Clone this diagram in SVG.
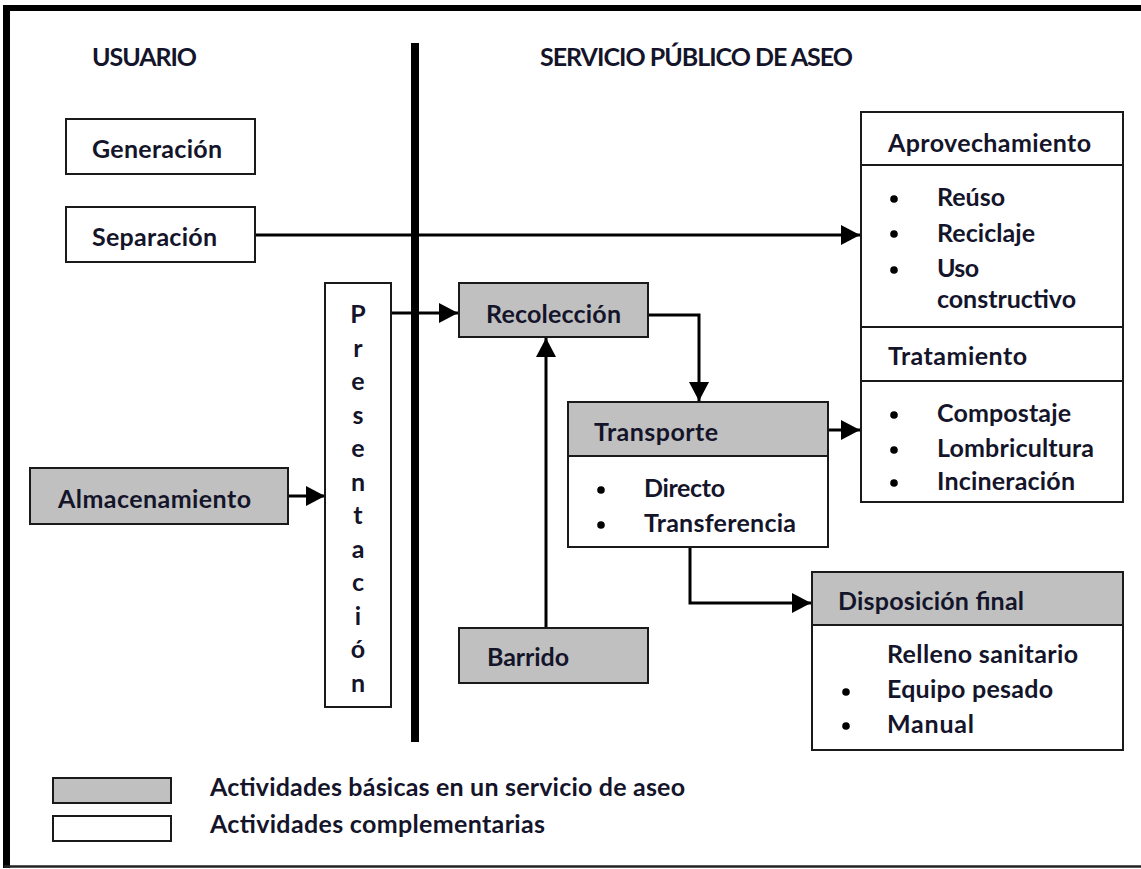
<svg xmlns="http://www.w3.org/2000/svg" width="1141" height="869" viewBox="0 0 1141 869">
<defs>
<style>
.t{font-family:Lato,"Open Sans","Liberation Sans",sans-serif;font-size:25px;font-weight:bold;fill:#14142a}
.box{fill:#fff;stroke:#1a1a1a;stroke-width:2}
.g{fill:#c0c0c0;stroke:#1a1a1a;stroke-width:2}
.c{fill:none;stroke:#000;stroke-width:3}
.b{fill:#000}
</style>
<marker id="ah" markerUnits="userSpaceOnUse" markerWidth="20" markerHeight="20" refX="19" refY="10" orient="auto">
<path d="M0,0 L19,10 L0,20 z" fill="#000"/>
</marker>
</defs>
<rect width="1141" height="869" fill="#fff"/>
<g id="frame">
<line x1="4" y1="8" x2="1141" y2="8" stroke="#000" stroke-width="6"/>
<line x1="6.5" y1="5" x2="6.5" y2="868" stroke="#000" stroke-width="7"/>
<line x1="4" y1="866.5" x2="1141" y2="866.5" stroke="#222" stroke-width="2.5"/>
<line x1="415" y1="43" x2="415" y2="742" stroke="#000" stroke-width="8"/>
</g>
<g id="titles">
<text class="t" x="92" y="66" textLength="105">USUARIO</text>
<text class="t" x="540" y="66" textLength="313">SERVICIO PÚBLICO DE ASEO</text>
</g>
<g id="connectors">
<line class="c" x1="255" y1="235" x2="860" y2="235" stroke-width="4" marker-end="url(#ah)"/>
<line class="c" x1="288" y1="496" x2="325" y2="496" stroke-width="4" marker-end="url(#ah)"/>
<line class="c" x1="392" y1="313" x2="458" y2="313" stroke-width="2.5" marker-end="url(#ah)"/>
<polyline class="c" points="648,315 699,315 699,401" marker-end="url(#ah)"/>
<line class="c" x1="828" y1="430" x2="860" y2="430" stroke-width="4" marker-end="url(#ah)"/>
<polyline class="c" points="690,547 690,603 811,603" marker-end="url(#ah)"/>
<line class="c" x1="546" y1="628" x2="546" y2="338" marker-end="url(#ah)"/>
</g>
<g id="generacion">
<rect class="box" x="66" y="119" width="189" height="55"/>
<text class="t" x="92" y="158" textLength="130">Generación</text>
</g>
<g id="separacion">
<rect class="box" x="66" y="207" width="189" height="55"/>
<text class="t" x="92" y="246" textLength="125">Separación</text>
</g>
<g id="almacenamiento">
<rect class="g" x="30" y="468" width="258" height="56"/>
<text class="t" x="58" y="508" textLength="193">Almacenamiento</text>
</g>
<g id="presentacion">
<rect class="box" x="325" y="283" width="66" height="424"/>
<g class="t" text-anchor="middle">
<text x="358" y="323">P</text>
<text x="358" y="356.5">r</text>
<text x="358" y="390">e</text>
<text x="358" y="423.5">s</text>
<text x="358" y="457">e</text>
<text x="358" y="490.5">n</text>
<text x="358" y="524">t</text>
<text x="358" y="557.5">a</text>
<text x="358" y="591">c</text>
<text x="358" y="624.5">i</text>
<text x="358" y="658">ó</text>
<text x="358" y="691.5">n</text>
</g>
</g>
<g id="recoleccion">
<rect class="g" x="459" y="283" width="189" height="54"/>
<text class="t" x="486" y="323" textLength="135">Recolección</text>
</g>
<g id="barrido">
<rect class="g" x="459" y="628" width="189" height="55"/>
<text class="t" x="487" y="666" textLength="82">Barrido</text>
</g>
<g id="transporte">
<rect class="box" x="568" y="402" width="260" height="145"/>
<rect class="g" x="568" y="402" width="260" height="54"/>
<text class="t" x="594" y="441" textLength="124">Transporte</text>
<circle class="b" cx="601" cy="490" r="3.8"/>
<circle class="b" cx="601" cy="525" r="3.8"/>
<text class="t" x="644" y="497" textLength="81">Directo</text>
<text class="t" x="644" y="532" textLength="152">Transferencia</text>
</g>
<g id="aprovechamiento">
<rect class="box" x="861" y="112" width="262" height="215"/>
<line x1="861" y1="165" x2="1123" y2="165" stroke="#1a1a1a" stroke-width="2"/>
<text class="t" x="888" y="152" textLength="203">Aprovechamiento</text>
<circle class="b" cx="894" cy="199" r="3.8"/>
<circle class="b" cx="894" cy="234" r="3.8"/>
<circle class="b" cx="894" cy="270" r="3.8"/>
<text class="t" x="937" y="206" textLength="68">Reúso</text>
<text class="t" x="937" y="242" textLength="98">Reciclaje</text>
<text class="t" x="937" y="277" textLength="42">Uso</text>
<text class="t" x="937" y="308" textLength="139">constructivo</text>
</g>
<g id="tratamiento">
<rect class="box" x="861" y="327" width="262" height="175"/>
<line x1="861" y1="381" x2="1123" y2="381" stroke="#1a1a1a" stroke-width="2"/>
<text class="t" x="888" y="365" textLength="139">Tratamiento</text>
<circle class="b" cx="894" cy="415" r="3.8"/>
<circle class="b" cx="894" cy="450" r="3.8"/>
<circle class="b" cx="894" cy="483" r="3.8"/>
<text class="t" x="937" y="422" textLength="134">Compostaje</text>
<text class="t" x="937" y="457" textLength="157">Lombricultura</text>
<text class="t" x="937" y="490" textLength="138">Incineración</text>
</g>
<g id="disposicion">
<rect class="box" x="812" y="572" width="311" height="178"/>
<rect class="g" x="812" y="572" width="311" height="53"/>
<text class="t" x="838" y="610" textLength="186">Disposición final</text>
<text class="t" x="887" y="663" textLength="191">Relleno sanitario</text>
<circle class="b" cx="846" cy="692" r="3.8"/>
<circle class="b" cx="846" cy="726" r="3.8"/>
<text class="t" x="887" y="698" textLength="166">Equipo pesado</text>
<text class="t" x="887" y="733" textLength="87">Manual</text>
</g>
<g id="legend">
<rect class="g" x="53" y="778" width="118" height="25"/>
<rect class="box" x="53" y="816" width="118" height="25"/>
<text class="t" x="210" y="796" textLength="475">Actividades básicas en un servicio de aseo</text>
<text class="t" x="210" y="833" textLength="335">Actividades complementarias</text>
</g>
</svg>
